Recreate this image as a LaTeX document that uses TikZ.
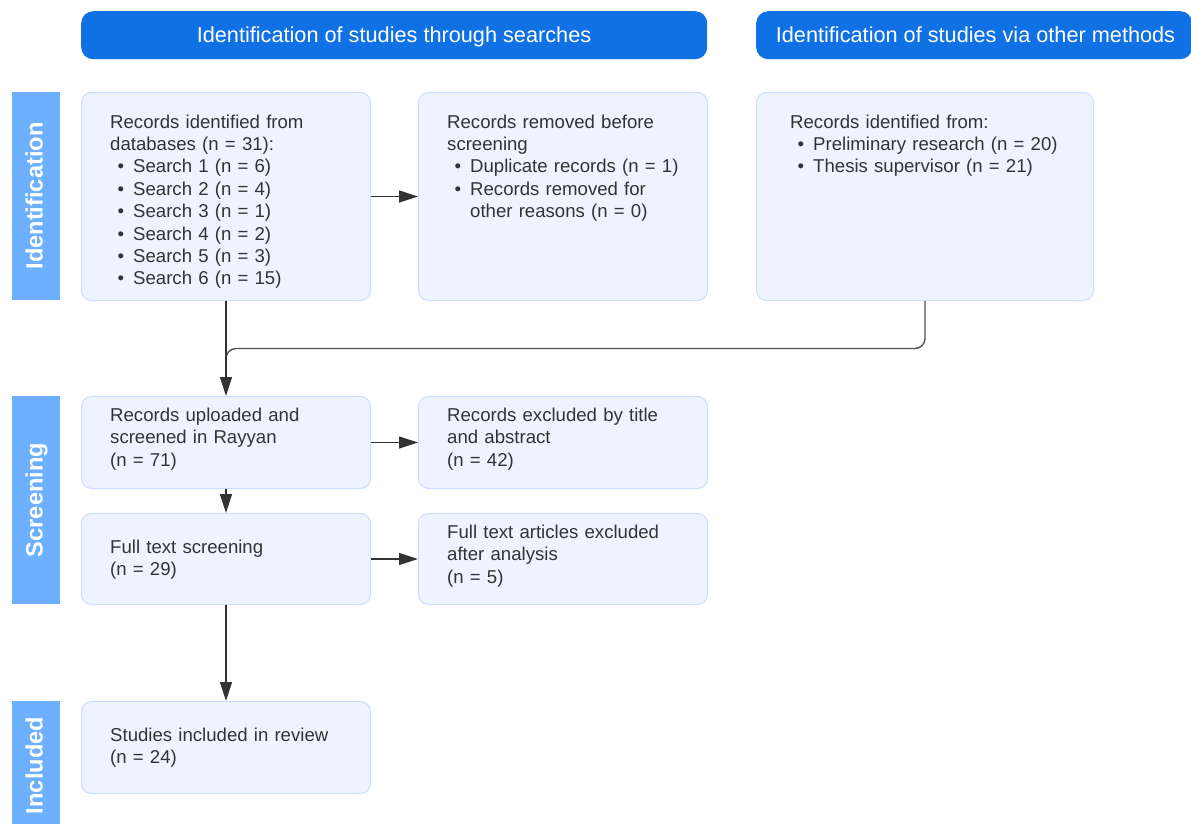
\documentclass[tikz,border=0pt]{standalone}
\usepackage{fontspec}
\setmainfont{Liberation Sans}
\usetikzlibrary{arrows.meta,calc}
\definecolor{hdr}{HTML}{1071E5}
\definecolor{side}{HTML}{6CB0FF}
\definecolor{boxfill}{HTML}{EDF4FF}
\definecolor{boxline}{HTML}{C9DEFC}
\definecolor{ink}{HTML}{333333}
\newcommand{\itm}[1]{\par\noindent\hbox to 23pt{\hskip 7.5pt\textbullet\hfil}#1}
\newcommand{\cont}[1]{\par\noindent\hspace*{23pt}#1}
\tikzset{
  hdrbox/.style={fill=hdr, draw=none, rounded corners=12pt, anchor=north west, inner sep=0pt, minimum height=48pt},
  hdrtxt/.style={anchor=base, inner sep=0pt, text=white, font=\fontsize{21.7}{26}\selectfont},
  sidebar/.style={fill=side, draw=none, anchor=north west, inner sep=0pt, minimum width=48pt},
  sidetxt/.style={anchor=base, rotate=90, inner sep=0pt, text=white, font=\fontsize{23.6}{28}\selectfont\bfseries},
  infobox/.style={fill=boxfill, draw=boxline, line width=1pt, rounded corners=10pt, anchor=north west, inner sep=0pt},
  txt/.style={anchor=base west, inner sep=0pt, text width=275pt, align=left, text=ink, font=\fontsize{18.6}{22.4}\selectfont},
  arr/.style={draw=ink, line width=1.2pt, -{Triangle[length=19pt,width=12pt]}},
  plain/.style={draw=ink!85, line width=1.4pt}
}
\begin{document}
\begin{tikzpicture}[x=1pt,y=-1pt]
\useasboundingbox (0,0) rectangle (1191,823);
% headers
\node[hdrbox, minimum width=626pt] (h1) at (81,11) {};
\node[hdrtxt] (h1t) at (394,42.8) {Identification of studies through searches};
\node[hdrbox, minimum width=436pt] (h2) at (756,11) {};
\node[hdrtxt] (h2t) at (975.5,42.8) {Identification of studies via other methods};
% side bars
\node[sidebar, minimum height=208pt] (s1) at (12,92) {};
\node[sidetxt] (s1t) at (42.5,196) {Identification};
\node[sidebar, minimum height=208pt] (s2) at (12,396) {};
\node[sidetxt] (s2t) at (42.5,500) {Screening};
\node[sidebar, minimum height=130pt] (s3) at (12,701) {};
\node[sidetxt] (s3t) at (42.5,765.5) {Included};
% boxes
\node[infobox, minimum width=289pt, minimum height=208pt] (A) at (81,92) {};
\node[infobox, minimum width=289pt, minimum height=208pt] (B) at (418,92) {};
\node[infobox, minimum width=337pt, minimum height=208pt] (C) at (756,92) {};
\node[infobox, minimum width=289pt, minimum height=92pt] (D) at (81,396) {};
\node[infobox, minimum width=289pt, minimum height=92pt] (E) at (418,396) {};
\node[infobox, minimum width=289pt, minimum height=91pt] (F) at (81,513) {};
\node[infobox, minimum width=289pt, minimum height=91pt] (G) at (418,513) {};
\node[infobox, minimum width=289pt, minimum height=92pt] (H) at (81,701) {};
% texts
\node[txt] (At) at (110,128) {Records identified from\\databases (n = 31):\itm{Search 1 (n = 6)}\itm{Search 2 (n = 4)}\itm{Search 3 (n = 1)}\itm{Search 4 (n = 2)}\itm{Search 5 (n = 3)}\itm{Search 6 (n = 15)}};
\node[txt] (Bt) at (447,128) {Records removed before\\screening\itm{Duplicate records (n = 1)}\itm{Records removed for}\cont{other reasons (n = 0)}};
\node[txt, text width=300pt] (Ct) at (790,128) {Records identified from:\itm{Preliminary research (n = 20)}\itm{Thesis supervisor (n = 21)}};
\node[txt] (Dt) at (110,421.5) {Records uploaded and\\screened in Rayyan\\(n = 71)};
\node[txt] (Et) at (447,421.5) {Records excluded by title\\and abstract\\(n = 42)};
\node[txt] (Ft) at (110,553.3) {Full text screening\\(n = 29)};
\node[txt] (Gt) at (447,538.3) {Full text articles excluded\\after analysis\\(n = 5)};
\node[txt] (Ht) at (110,741) {Studies included in review\\(n = 24)};
% connectors
\coordinate (jn) at ($(A.south)!0.5!(D.north)$);
\draw[plain, rounded corners=10pt] (C.south) -- (C.south |- jn) -- (jn) -- ($(jn)+(0,20)$);
\draw[arr] (A.south) -- (D.north);
\draw[arr] (A.east) -- (B.west);
\draw[arr] (D.east) -- (E.west);
\draw[arr] (D.south) -- (F.north);
\draw[arr] (F.east) -- (G.west);
\draw[arr] (F.south) -- (H.north);
\end{tikzpicture}
\end{document}
